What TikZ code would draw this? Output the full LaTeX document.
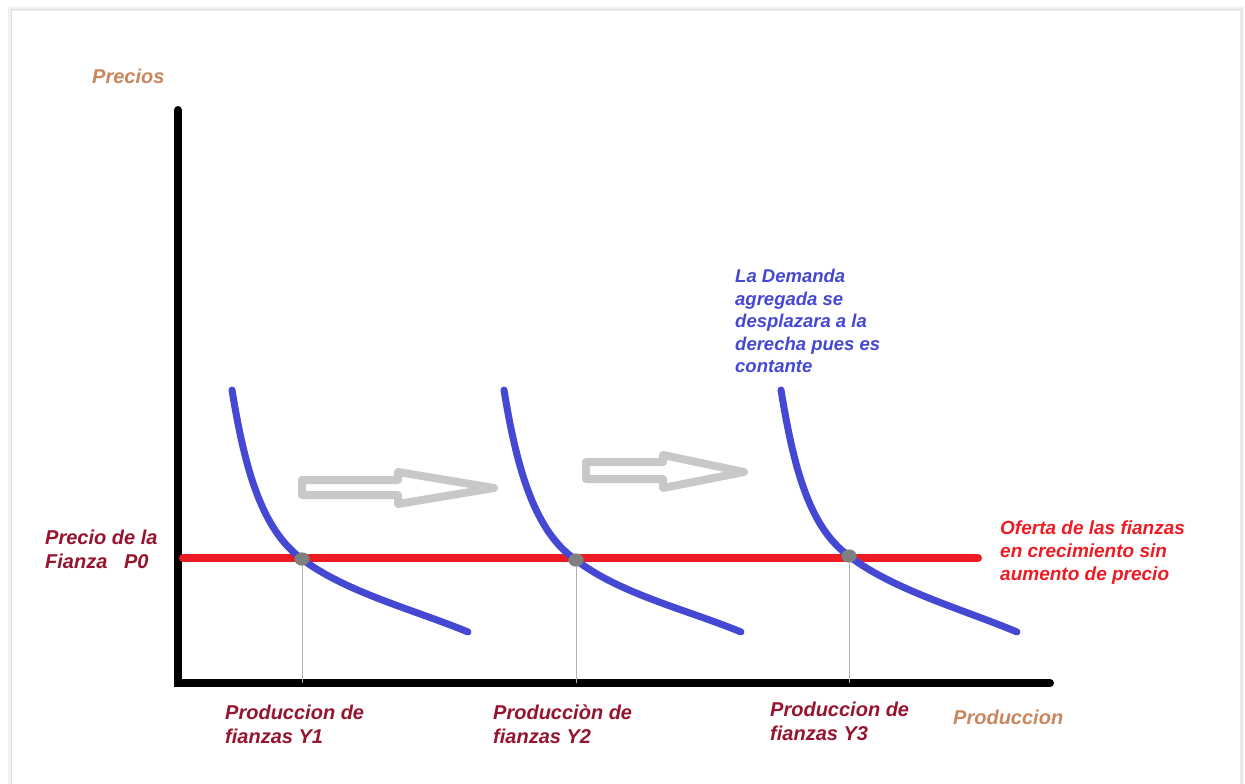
\documentclass[tikz,border=0pt]{standalone}
\usepackage{fontspec}
\setmainfont{Liberation Sans}
\definecolor{axisbrown}{RGB}{200,135,95}
\definecolor{labelred}{RGB}{150,20,45}
\definecolor{supplyred}{RGB}{237,28,36}
\definecolor{demandblue}{RGB}{68,72,210}
\definecolor{shiftgray}{RGB}{200,200,200}
\definecolor{dotgray}{RGB}{128,128,128}
\tikzset{
  axisline/.style={line width=8pt, line cap=round, black},
  supply/.style={line width=8pt, line cap=round, supplyred},
  demand/.style={line width=7pt, line cap=round, demandblue},
  guide/.style={line width=1pt, gray!60},
  eqdot/.style={ellipse, fill=dotgray, minimum width=15pt, minimum height=13pt, inner sep=0pt},
  shiftarrow/.style={line width=8pt, line join=round, draw=shiftgray, fill=white},
  lbl/.style={anchor=north west, inner sep=0pt, align=left, font=\bfseries\itshape\fontsize{20}{23.5}\selectfont},
}
\usetikzlibrary{shapes.geometric}
\begin{document}
\begin{tikzpicture}[x=1pt, y=-1pt]
  % page and its soft frame
  \useasboundingbox (0,0) rectangle (1245,784);
  \fill[white] (0,0) rectangle (1245,784);
  \draw[gray!12, line width=4pt] (10,9) rectangle (1242,790);
  \draw[gray!25, line width=1pt] (11,10) rectangle (1241,790);

  % axes
  \coordinate (top) at (178,110);
  \coordinate (origin) at (178,683);
  \coordinate (right) at (1050,683);
  \draw[axisline] (top) -- (origin) -- (right);

  % horizontal supply
  \coordinate (s0) at (183,558);
  \coordinate (s1) at (978,558);
  \draw[supply] (s0) -- (s1);

  % equilibrium points
  \node[eqdot] (e1) at (302,559) {};
  \node[eqdot] (e2) at (576,560) {};
  \node[eqdot] (e3) at (849,556) {};
  \coordinate (y1) at (302,683);
  \coordinate (y2) at (576,683);
  \coordinate (y3) at (849,683);
  \draw[guide] (e1.south) -- (y1);
  \draw[guide] (e2.south) -- (y2);
  \draw[guide] (e3.south) -- (y3);

  % demand curves
  \coordinate (d1a) at (232,390); \coordinate (d1b) at (468,632);
  \coordinate (d2a) at (504,390); \coordinate (d2b) at (741,632);
  \coordinate (d3a) at (781,390); \coordinate (d3b) at (1017,632);
  \draw[demand] (d1a) .. controls (245,470) and (262,530) .. (e1.center)
                      .. controls (345,592) and (415,610) .. (d1b);
  \draw[demand] (d2a) .. controls (517,470) and (535,532) .. (e2.center)
                      .. controls (620,594) and (688,610) .. (d2b);
  \draw[demand] (d3a) .. controls (794,470) and (810,528) .. (e3.center)
                      .. controls (893,590) and (965,610) .. (d3b);
  \node[eqdot] at (e1) {};
  \node[eqdot] at (e2) {};
  \node[eqdot] at (e3) {};

  % hollow shift arrows
  \draw[shiftarrow] (302,480) -- (398,480) -- (398,472) -- (494,488)
               -- (398,504) -- (398,495) -- (302,495) -- cycle;
  \draw[shiftarrow] (586,462) -- (663,462) -- (663,455) -- (744,472)
               -- (663,488) -- (663,479) -- (586,479) -- cycle;

  % labels
  \node[lbl, text=axisbrown] (precios) at (92,69) {Precios};
  \node[lbl, text=axisbrown] (produccion) at (953,710) {Produccion};
  \node[lbl, text=labelred] (p0) at (45,530) {Precio de la\\Fianza\ \ \ P0};
  \node[lbl, text=labelred] (ly1) at (225,705) {Produccion de\\fianzas Y1};
  \node[lbl, text=labelred] (ly2) at (493,705) {Producciòn de\\fianzas Y2};
  \node[lbl, text=labelred] (ly3) at (770,702) {Produccion de\\fianzas Y3};
  \node[lbl, text=demandblue, font=\bfseries\itshape\fontsize{18.5}{22.5}\selectfont] (dem) at (735,269)
    {La Demanda\\agregada se\\desplazara a la\\derecha pues es\\contante};
  \node[lbl, text=supplyred, font=\bfseries\itshape\fontsize{19}{23}\selectfont] (ofe) at (1000,521)
    {Oferta de las fianzas\\en crecimiento sin\\aumento de precio};
\end{tikzpicture}
\end{document}
